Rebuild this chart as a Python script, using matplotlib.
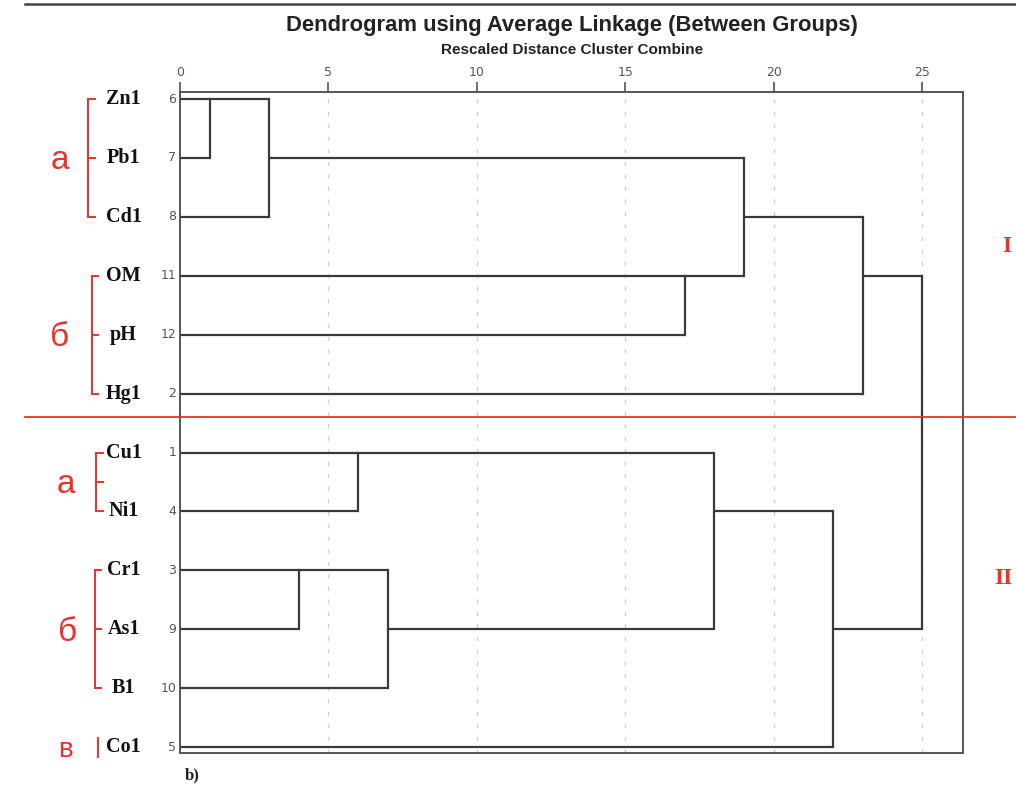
import matplotlib
matplotlib.use('Agg')
import matplotlib.pyplot as plt
import numpy as np
from matplotlib.lines import Line2D

# leaves, top to bottom
labels = ['Zn1', 'Pb1', 'Cd1', 'OM', 'pH', 'Hg1', 'Cu1', 'Ni1', 'Cr1', 'As1', 'B1', 'Co1']
case_numbers = [6, 7, 8, 11, 12, 2, 1, 4, 3, 9, 10, 5]

# merges (node ids: leaves 0-11, new clusters 12, 13, ... in order)
merge_a = [0, 12, 3, 13, 15, 6, 8, 18, 17, 20, 16]
merge_b = [1, 2, 4, 14, 5, 7, 9, 10, 19, 11, 21]
merge_dist = [1, 3, 17, 19, 23, 6, 4, 7, 18, 22, 25]

xticks = [0, 5, 10, 15, 20, 25]

# sub-group brackets: (first row, last row, letter)
groups = [(0, 2, 'а'), (3, 5, 'б'), (6, 7, 'а'), (8, 10, 'б'), (11, 11, 'в')]
bracket_x = [-3.10, -2.97, -2.83, -2.87, -2.77]
letter_x = [-4.05, -4.05, -3.85, -3.8, -3.85]

RED = '#e8322b'
LINE = '#3a3a3a'

fig = plt.figure(figsize=(10.16, 7.95), dpi=100)
ax = fig.add_axes([180 / 1016, 1 - 753 / 795, 783 / 1016, 661 / 795])

n = len(labels)
xpos = {i: 0.0 for i in range(n)}
ypos = {i: float(i) for i in range(n)}

for k, (a, b, d) in enumerate(zip(merge_a, merge_b, merge_dist)):
    ax.plot([xpos[a], d], [ypos[a], ypos[a]], color=LINE, lw=1.6, solid_capstyle='butt')
    ax.plot([xpos[b], d], [ypos[b], ypos[b]], color=LINE, lw=1.6, solid_capstyle='butt')
    ax.plot([d, d], [ypos[a], ypos[b]], color=LINE, lw=1.6, solid_capstyle='projecting')
    new = n + k
    xpos[new] = d
    ypos[new] = float(np.floor((ypos[a] + ypos[b]) / 2))

ax.set_xlim(0, 783 / 29.68)
ax.set_ylim(11.1, -0.12)

ax.xaxis.tick_top()
ax.set_xticks(xticks)
ax.set_xticklabels([str(t) for t in xticks], fontsize=9, color='#555555', family='DejaVu Sans')
ax.tick_params(axis='x', length=7, width=1.2, color='#555555', pad=2)
ax.set_yticks([])
for x in xticks[1:]:
    ax.axvline(x, color='#cfcfcf', lw=1, ls=(0, (3, 6)), zorder=0)
for s in ax.spines.values():
    s.set_color('#555555')
    s.set_linewidth(1.4)

# case numbers and names
for i, (lab, num) in enumerate(zip(labels, case_numbers)):
    ax.text(-0.12, i, str(num), ha='right', va='center', fontsize=9, color='#555555',
            family='DejaVu Sans', clip_on=False)
    ax.text(-1.9, i, lab, ha='center', va='center', fontsize=14.5, fontweight='bold',
            family='Liberation Serif', color='#111111', clip_on=False)

# red brackets
for (r0, r1, letter), bx, lx in zip(groups, bracket_x, letter_x):
    if r0 == r1:
        ax.plot([bx, bx], [r0 - 0.15, r0 + 0.17], color=RED, lw=1.4, clip_on=False)
    else:
        ax.plot([bx, bx], [r0, r1], color=RED, lw=1.4, clip_on=False)
        for r in (r0, r1, (r0 + r1) / 2):
            ax.plot([bx, bx + 0.22], [r, r], color=RED, lw=1.4, clip_on=False)
    ax.text(lx, (r0 + r1) / 2 + 0.05, letter, ha='center', va='center', fontsize=24 if letter != 'в' else 20,
            color=RED, family='Liberation Sans', clip_on=False)

# cluster markers and dividing line
fig.text(1007 / 1016, 1 - 247 / 795, 'I', ha='center', va='center', color=RED,
         fontsize=17, fontweight='bold', family='Liberation Serif')
fig.text(1003 / 1016, 1 - 579 / 795, 'II', ha='center', va='center', color=RED,
         fontsize=17, fontweight='bold', family='Liberation Serif')
fig.add_artist(Line2D([25 / 1016, 1], [1 - 417 / 795] * 2, color=RED, lw=1.3))
fig.add_artist(Line2D([25 / 1016, 1], [1 - 4 / 795] * 2, color='#444444', lw=1.8))

fig.text(572 / 1016, 1 - 26 / 795, 'Dendrogram using Average Linkage (Between Groups)', ha='center', va='center',
         fontsize=15.8, fontweight='bold', family='Liberation Sans', color='#222222')
fig.text(572 / 1016, 1 - 50 / 795, 'Rescaled Distance Cluster Combine', ha='center', va='center',
         fontsize=11, fontweight='bold', family='Liberation Sans', color='#222222')
fig.text(185 / 1016, 1 - 775 / 795, 'b)', ha='left', va='center', fontsize=12, fontweight='bold',
         family='Liberation Serif', color='#222222')

fig.savefig('out.png', dpi=100)
